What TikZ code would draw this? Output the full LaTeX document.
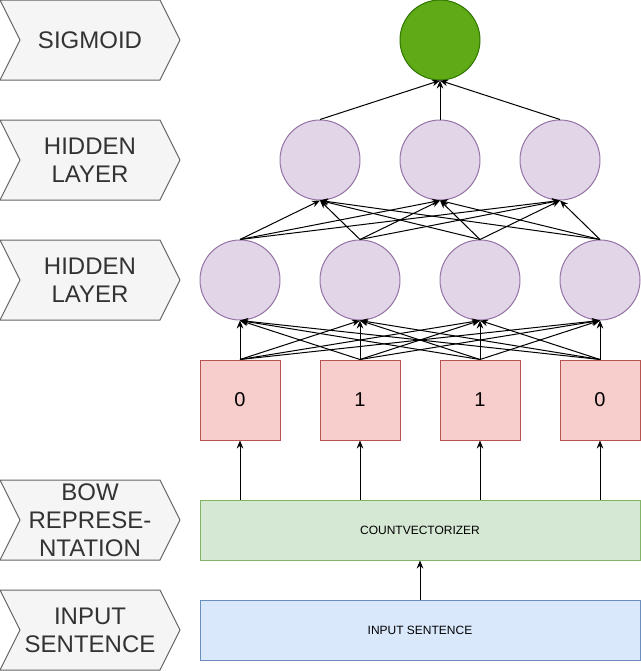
\documentclass[tikz,border=0pt]{standalone}
\usepackage{fontspec}
\setmainfont{Liberation Sans}
\usetikzlibrary{arrows.meta}
\definecolor{lavfill}{HTML}{E1D5E7}
\definecolor{lavline}{HTML}{9673A6}
\definecolor{redfill}{HTML}{F8CECC}
\definecolor{redline}{HTML}{B85450}
\definecolor{grnfill}{HTML}{D5E8D4}
\definecolor{grnline}{HTML}{82B366}
\definecolor{blufill}{HTML}{DAE8FC}
\definecolor{bluline}{HTML}{6C8EBF}
\definecolor{sigfill}{HTML}{60A917}
\definecolor{sigline}{HTML}{2D7600}
\definecolor{chevfill}{HTML}{F5F5F5}
\definecolor{chevline}{HTML}{666666}
\definecolor{chevtext}{HTML}{333333}
\tikzset{
  neuron/.style={circle, draw=lavline, fill=lavfill, line width=0.75pt, minimum size=60pt, inner sep=0pt},
  signode/.style={circle, draw=sigline, fill=sigfill, line width=0.75pt, minimum size=60pt, inner sep=0pt},
  bitbox/.style={rectangle, draw=redline, fill=redfill, line width=0.75pt, minimum width=60pt, minimum height=60pt, inner sep=0pt, font=\fontsize{15}{18}\selectfont},
  widebox/.style={rectangle, line width=0.75pt, minimum width=330pt, minimum height=45pt, inner sep=0pt, font=\fontsize{9}{11}\selectfont},
  chevron/.style={draw=chevline, fill=chevfill, line width=0.75pt},
  chevlabel/.style={align=center, text=chevtext, font=\fontsize{18}{21}\selectfont, inner sep=0pt},
  conn/.style={line width=0.75pt, -{Stealth[length=6pt,width=5pt]}},
}
\begin{document}
\begin{tikzpicture}[x=0.75pt, y=-0.75pt]
\useasboundingbox (0,0) rectangle (641,671);
% chevrons
\foreach \top/\nm/\txt in {0/cs/{SIGMOID}, 120/ch2/{HIDDEN\\LAYER}, 240/ch1/{HIDDEN\\LAYER}, 480/cb/{BOW\\REPRESE-\\NTATION}, 590/ci/{INPUT\\SENTENCE}}{
  \draw[chevron] (0,\top) -- (160,\top) -- (180,\top+40) -- (160,\top+80) -- (0,\top+80) -- (20,\top+40) -- cycle;
  \node[chevlabel] (\nm) at (90,\top+40) {\txt};
}
% nodes
\node[signode] (sig) at (440,40) {};
\node[neuron] (t1) at (320,160) {};
\node[neuron] (t2) at (440,160) {};
\node[neuron] (t3) at (560,160) {};
\node[neuron] (h1) at (240,280) {};
\node[neuron] (h2) at (360,280) {};
\node[neuron] (h3) at (480,280) {};
\node[neuron] (h4) at (600,280) {};
\node[bitbox] (b1) at (240,400) {0};
\node[bitbox] (b2) at (360,400) {1};
\node[bitbox] (b3) at (480,400) {1};
\node[bitbox] (b4) at (600,400) {0};
\node[widebox, draw=grnline, fill=grnfill] (cv) at (420,530) {COUNTVECTORIZER};
\node[widebox, draw=bluline, fill=blufill] (inp) at (420,630) {INPUT SENTENCE};
% connectors
\draw[conn] (inp.north) -- (cv.north |- cv.south);
\foreach \i in {1,2,3,4}{
  \draw[conn] (cv.north -| b\i.south) -- (b\i.south);
}
\foreach \i in {1,2,3,4}{
  \foreach \j in {1,2,3,4}{
    \draw[conn] (b\i.north) -- (h\j.south);
  }
}
\foreach \i in {1,2,3,4}{
  \foreach \j in {1,2,3}{
    \draw[conn] (h\i.north) -- (t\j.south);
  }
}
\foreach \j in {1,2,3}{
  \draw[conn] (t\j.north) -- (sig.south);
}
\end{tikzpicture}
\end{document}
